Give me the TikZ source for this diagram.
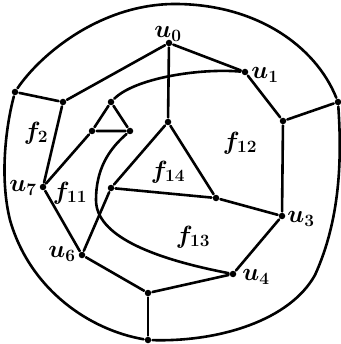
\documentclass[tikz,border=0pt]{standalone}
\begin{document}
\begin{tikzpicture}[x=1pt,y=-1pt,line width=2.6pt,line join=round,line cap=round,
  dot/.style={circle,fill,inner sep=0pt,minimum size=6.5pt},
  lbl/.style={inner sep=0pt,font=\fontsize{25}{29}\selectfont\boldmath}]
\useasboundingbox (0,0) rectangle (340,344);
% outer vertices
\node[dot] (A) at (15,92) {};
\node[dot] (B) at (338,102) {};
\node[dot] (C) at (148,340) {};
% octagon
\node[dot] (u0) at (169,43) {};
\node[dot] (u1) at (245,72) {};
\node[dot] (v2) at (283,121) {};
\node[dot] (u3) at (282,216) {};
\node[dot] (u4) at (233,274) {};
\node[dot] (v5) at (148,293) {};
\node[dot] (u6) at (82,255) {};
\node[dot] (u7) at (43,187) {};
\node[dot] (v8) at (63,102) {};
% inner
\node[dot] (c) at (168,122) {};
\node[dot] (p) at (111,188) {};
\node[dot] (q) at (216,198) {};
\node[dot] (t1) at (111,102) {};
\node[dot] (t2) at (92,131) {};
\node[dot] (t3) at (130,131) {};
\coordinate (m1) at (175,4);
\coordinate (m2) at (315,275);
\coordinate (m3) at (10,220);
\coordinate (m4) at (96,200);
% outer boundary
\draw (A) .. controls (40,55) and (100,4) .. (m1)
          .. controls (255,4) and (315,45) .. (B);
\draw (B) .. controls (342,160) and (340,220) .. (m2)
          .. controls (290,320) and (220,342) .. (C);
\draw (C) .. controls (90,330) and (30,290) .. (m3)
          .. controls (0,180) and (5,130) .. (A);
% spokes
\draw (A) -- (v8);
\draw (B) -- (v2);
\draw (C) -- (v5);
% octagon edges
\draw (u0) -- (u1) -- (v2) -- (u3) -- (u4) -- (v5) -- (u6) -- (u7) -- (v8) -- (u0);
% inner edges
\draw (u0) -- (c);
\draw (c) -- (p) -- (q) -- (c);
\draw (q) -- (u3);
\draw (p) -- (u6);
\draw (u7) -- (t2);
\draw (t1) -- (t2) -- (t3) -- (t1);
\draw (t1) .. controls (135,78) and (200,68) .. (u1);
\draw (t3) .. controls (108,150) and (96,170) .. (m4)
           .. controls (96,235) and (150,258) .. (u4);
% labels
\node[lbl] (lu0) at (168,34) {$u_0$};
\node[lbl] (lu1) at (265,75) {$u_1$};
\node[lbl] (lu3) at (301,219) {$u_3$};
\node[lbl] (lu4) at (256,277) {$u_4$};
\node[lbl] (lu6) at (62,254) {$u_6$};
\node[lbl] (lu7) at (23,188) {$u_7$};
\node[lbl] (lf2) at (36,133) {$f_2$};
\node[lbl] (lf11) at (70,193) {$f_{11}$};
\node[lbl] (lf12) at (240,143) {$f_{12}$};
\node[lbl] (lf13) at (193,237) {$f_{13}$};
\node[lbl] (lf14) at (168,172) {$f_{14}$};
\end{tikzpicture}
\end{document}
